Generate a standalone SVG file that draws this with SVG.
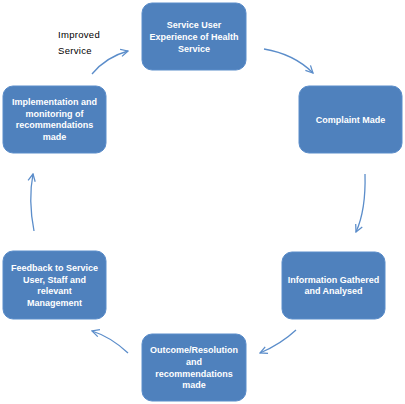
<svg xmlns="http://www.w3.org/2000/svg" width="405" height="404" viewBox="0 0 405 404">
<defs>
<style>
.box{fill:#4F81BD;stroke:#5B8DCA;stroke-width:1}
.lbl{font-family:"Liberation Sans",Arial,sans-serif;font-weight:bold;font-size:9px;fill:#FFFFFF;text-anchor:middle}
.note{font-family:"Liberation Sans",Arial,sans-serif;font-size:9.5px;fill:#000000;letter-spacing:0.3px}
.conn{fill:none;stroke:#5B8DCA;stroke-width:1.3;marker-end:url(#arr)}
</style>
<marker id="arr" viewBox="0 0 10 10" refX="9" refY="5" markerWidth="9" markerHeight="9" markerUnits="userSpaceOnUse" orient="auto">
<path d="M1,1 L9,5 L1,9" fill="none" stroke="#5B8DCA" stroke-width="1.4"/>
</marker>
</defs>
<rect width="405" height="404" fill="#FFFFFF"/>
<g id="connectors">
<path class="conn" d="M92,74 Q106,57 128,51"/>
<path class="conn" d="M264,49 Q294,54 313,73"/>
<path class="conn" d="M365,174 Q366,210 356,232"/>
<path class="conn" d="M296,330 Q281,344 260,353"/>
<path class="conn" d="M128,353 Q111,337 92,331"/>
<path class="conn" d="M34,231 Q28,200 33,174"/>
</g>
<g id="node-experience">
<rect class="box" x="142" y="3" width="104" height="67" rx="10"/>
<text class="lbl" x="194" y="28.3">Service User</text>
<text class="lbl" x="194" y="40">Experience of Health</text>
<text class="lbl" x="194" y="51.5">Service</text>
</g>
<g id="node-complaint">
<rect class="box" x="299" y="86" width="103" height="67" rx="10"/>
<text class="lbl" x="350.5" y="122.5">Complaint Made</text>
</g>
<g id="node-information">
<rect class="box" x="282" y="252" width="103" height="67" rx="10"/>
<text class="lbl" x="333.5" y="282.5">Information Gathered</text>
<text class="lbl" x="333.5" y="294.2">and Analysed</text>
</g>
<g id="node-outcome">
<rect class="box" x="142" y="334" width="104" height="67" rx="10"/>
<text class="lbl" x="194" y="353.3">Outcome/Resolution</text>
<text class="lbl" x="194" y="365">and</text>
<text class="lbl" x="194" y="376.6">recommendations</text>
<text class="lbl" x="194" y="388.3">made</text>
</g>
<g id="node-feedback">
<rect class="box" x="3" y="251" width="103" height="68" rx="10"/>
<text class="lbl" x="54.5" y="270.9">Feedback to Service</text>
<text class="lbl" x="54.5" y="282.5">User, Staff and</text>
<text class="lbl" x="54.5" y="294.1">relevant</text>
<text class="lbl" x="54.5" y="305.8">Management</text>
</g>
<g id="node-implementation">
<rect class="box" x="3" y="86" width="103" height="67" rx="10"/>
<text class="lbl" x="54.5" y="105">Implementation and</text>
<text class="lbl" x="54.5" y="116.6">monitoring of</text>
<text class="lbl" x="54.5" y="128.3">recommendations</text>
<text class="lbl" x="54.5" y="140">made</text>
</g>
<g id="note-improved">
<text class="note" x="58" y="38.2">Improved</text>
<text class="note" x="58" y="54">Service</text>
</g>
</svg>
